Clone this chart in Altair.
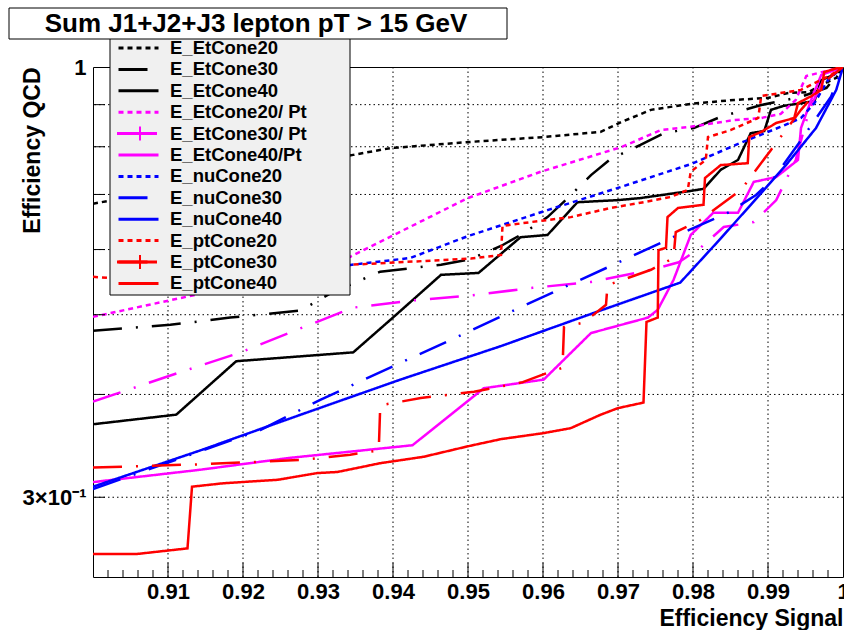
import altair as alt
import pandas as pd

FONT = "Liberation Sans"
TITLE = "Sum J1+J2+J3 lepton pT > 15 GeV"

# ---- isolation-cut ROC curves: signal efficiency (x) vs QCD efficiency (y) ----
etcone20_x = [0.9000, 0.9347, 0.9397, 0.9504, 0.9601, 0.9677, 0.9704, 0.9744, 0.9797, 0.9855, 0.9900, 0.9927, 0.9954, 0.9971, 0.9991, 1.0000]
etcone20_y = [0.682, 0.782, 0.797, 0.811, 0.822, 0.834, 0.857, 0.887, 0.902, 0.912, 0.917, 0.930, 0.932, 0.951, 0.970, 1.000]

etcone30_x = [0.9000, 0.9103, 0.9183, 0.9277, 0.9317, 0.9383, 0.9464, 0.9500, 0.9544, 0.9570, 0.9606, 0.9633, 0.9664, 0.9690, 0.9730, 0.9761, 0.9801, 0.9837, 0.9891, 0.9944, 0.9978, 1.0000]
etcone30_y = [0.478, 0.486, 0.496, 0.506, 0.531, 0.564, 0.575, 0.583, 0.606, 0.625, 0.657, 0.693, 0.739, 0.773, 0.804, 0.831, 0.843, 0.870, 0.899, 0.920, 0.943, 1.000]

etcone40_x = [0.9000, 0.9111, 0.9191, 0.9347, 0.9401, 0.9464, 0.9514, 0.9570, 0.9606, 0.9646, 0.9700, 0.9730, 0.9797, 0.9814, 0.9837, 0.9860, 0.9877, 0.9895, 0.9904, 0.9921, 0.9962, 0.9971, 0.9984, 1.0000]
etcone40_y = [0.368, 0.378, 0.439, 0.450, 0.497, 0.559, 0.562, 0.621, 0.625, 0.685, 0.689, 0.693, 0.707, 0.711, 0.750, 0.771, 0.831, 0.836, 0.887, 0.897, 0.909, 0.964, 0.975, 1.000]

etcone20pt_x = [0.9000, 0.9134, 0.9343, 0.9401, 0.9500, 0.9597, 0.9704, 0.9757, 0.9797, 0.9855, 0.9891, 0.9917, 0.9937, 0.9951, 0.9978, 1.0000]
etcone20pt_y = [0.497, 0.528, 0.588, 0.625, 0.693, 0.746, 0.799, 0.838, 0.846, 0.862, 0.867, 0.877, 0.912, 0.975, 0.989, 1.000]

etcone30pt_x = [0.9000, 0.9114, 0.9197, 0.9271, 0.9347, 0.9423, 0.9506, 0.9586, 0.9664, 0.9744, 0.9781, 0.9810, 0.9841, 0.9881, 0.9911, 0.9937, 0.9955, 0.9974, 1.0000]
etcone30pt_y = [0.392, 0.425, 0.450, 0.479, 0.510, 0.520, 0.528, 0.539, 0.548, 0.567, 0.579, 0.603, 0.639, 0.648, 0.689, 0.771, 0.887, 0.964, 1.000]

etcone40pt_x = [0.9000, 0.9143, 0.9263, 0.9426, 0.9521, 0.9601, 0.9664, 0.9740, 0.9753, 0.9774, 0.9797, 0.9827, 0.9860, 0.9881, 0.9911, 0.9940, 0.9944, 0.9960, 0.9971, 1.0000]
etcone40pt_y = [0.313, 0.324, 0.335, 0.347, 0.407, 0.417, 0.475, 0.496, 0.507, 0.551, 0.625, 0.665, 0.665, 0.725, 0.735, 0.771, 0.843, 0.925, 0.978, 1.000]

nucone20_x = [0.9317, 0.9423, 0.9500, 0.9606, 0.9700, 0.9797, 0.9864, 0.9917, 0.9944, 0.9962, 0.9980, 1.0000]
nucone20_y = [0.571, 0.586, 0.623, 0.670, 0.713, 0.762, 0.809, 0.846, 0.867, 0.904, 0.964, 1.000]

nucone30_x = [0.9000, 0.9223, 0.9303, 0.9410, 0.9486, 0.9557, 0.9628, 0.9701, 0.9773, 0.9848, 0.9884, 0.9908, 0.9944, 0.9984, 1.0000]
nucone30_y = [0.307, 0.362, 0.394, 0.437, 0.470, 0.504, 0.540, 0.579, 0.621, 0.666, 0.699, 0.733, 0.815, 0.920, 1.000]

nucone40_x = [0.9000, 0.9143, 0.9277, 0.9410, 0.9544, 0.9677, 0.9783, 0.9837, 0.9877, 0.9924, 0.9964, 0.9991, 1.0000]
nucone40_y = [0.309, 0.342, 0.378, 0.417, 0.458, 0.506, 0.547, 0.619, 0.680, 0.760, 0.843, 0.938, 1.000]

ptcone20_x = [0.9000, 0.9023, 0.9343, 0.9504, 0.9544, 0.9546, 0.9584, 0.9637, 0.9690, 0.9730, 0.9770, 0.9793, 0.9797, 0.9817, 0.9820, 0.9850, 0.9887, 0.9891, 0.9944, 0.9984, 1.0000]
ptcone20_y = [0.556, 0.554, 0.575, 0.585, 0.591, 0.641, 0.648, 0.657, 0.674, 0.684, 0.695, 0.709, 0.746, 0.771, 0.822, 0.838, 0.867, 0.922, 0.938, 0.978, 1.000]

ptcone30_x = [0.9000, 0.9143, 0.9277, 0.9343, 0.9381, 0.9383, 0.9437, 0.9508, 0.9573, 0.9606, 0.9626, 0.9628, 0.9654, 0.9684, 0.9686, 0.9744, 0.9774, 0.9777, 0.9810, 0.9864, 0.9904, 0.9944, 0.9978, 1.0000]
ptcone30_y = [0.326, 0.329, 0.333, 0.338, 0.342, 0.388, 0.396, 0.403, 0.414, 0.425, 0.431, 0.483, 0.489, 0.514, 0.543, 0.567, 0.586, 0.630, 0.652, 0.709, 0.793, 0.887, 0.964, 1.000]

ptcone40_x = [0.9000, 0.9059, 0.9126, 0.9132, 0.9174, 0.9246, 0.9299, 0.9326, 0.9383, 0.9441, 0.9500, 0.9544, 0.9601, 0.9637, 0.9677, 0.9700, 0.9734, 0.9738, 0.9753, 0.9754, 0.9764, 0.9766, 0.9780, 0.9814, 0.9816, 0.9837, 0.9873, 0.9875, 0.9891, 0.9911, 0.9935, 0.9940, 0.9958, 0.9971, 0.9975, 0.9997, 1.0000]
ptcone40_y = [0.256, 0.256, 0.260, 0.309, 0.312, 0.315, 0.321, 0.322, 0.330, 0.336, 0.346, 0.353, 0.359, 0.364, 0.378, 0.385, 0.391, 0.490, 0.496, 0.599, 0.603, 0.657, 0.674, 0.680, 0.733, 0.760, 0.764, 0.822, 0.834, 0.855, 0.867, 0.904, 0.922, 0.938, 0.986, 1.000, 1.000]

series = [
    ("E_EtCone20", etcone20_x, etcone20_y),
    ("E_EtCone30", etcone30_x, etcone30_y),
    ("E_EtCone40", etcone40_x, etcone40_y),
    ("E_EtCone20/ Pt", etcone20pt_x, etcone20pt_y),
    ("E_EtCone30/ Pt", etcone30pt_x, etcone30pt_y),
    ("E_EtCone40/Pt", etcone40pt_x, etcone40pt_y),
    ("E_nuCone20", nucone20_x, nucone20_y),
    ("E_nuCone30", nucone30_x, nucone30_y),
    ("E_nuCone40", nucone40_x, nucone40_y),
    ("E_ptCone20", ptcone20_x, ptcone20_y),
    ("E_ptCone30", ptcone30_x, ptcone30_y),
    ("E_ptCone40", ptcone40_x, ptcone40_y),
]

# axis decoration values
x_labels = [0.91, 0.92, 0.93, 0.94, 0.95, 0.96, 0.97, 0.98, 0.99, 1.0]
x_major = [0.91, 0.92, 0.93, 0.94, 0.95, 0.96, 0.97, 0.98, 0.99]
x_minor = [round(0.9 + 0.002 * i, 3) for i in range(1, 50) if i % 5]
y_major = [0.3, 0.4, 0.5, 0.6, 0.7, 0.8, 0.9]
y_labels = [0.3, 1.0]

rows = []
for name, xs, ys in series:
    if len(xs) != len(ys):
        raise ValueError(name)
    for i, (a, b) in enumerate(zip(xs, ys)):
        rows.append({"series": name, "idx": i, "eff_sig": a, "eff_qcd": b})
curves = pd.DataFrame(rows)

names = [s[0] for s in series]
colors = ["#000000"] * 3 + ["#ff00ff"] * 3 + ["#0000ff"] * 3 + ["#ff0000"] * 3
DOT = [5, 4]
DASHDOT = [29, 14, 2, 14]
SOLID = [1, 0]
dashes = [DOT, DASHDOT, SOLID] * 4

W, H = 750, 510
xscale = alt.Scale(domain=[0.9, 1.0], nice=False, zero=False)
yscale = alt.Scale(type="log", domain=[0.24, 1.0], nice=False)

legend = alt.Legend(
    orient="none", legendX=24, legendY=-28, padding=0,
    symbolType="stroke", symbolSize=1600, symbolStrokeWidth=3,
    clipHeight=18, rowPadding=2.4, labelOffset=10,
    labelFont=FONT, labelFontSize=18.5, labelFontWeight="bold",
    labelColor="black", labelLimit=300,
)

x_axis = alt.Axis(
    values=x_labels,
    labelExpr="datum.value > 0.9995 ? '1' : format(datum.value, '.2f')",
    grid=False, ticks=False, domain=False,
    labelFont=FONT, labelFontSize=22, labelFontWeight="bold", labelColor="black",
    labelPadding=4, labelFlush=False, labelOverlap=False,
    title="Efficiency Signal", titleFont=FONT, titleFontSize=23,
    titleFontWeight="bold", titleColor="black",
    titleX=W, titleY=41, titleAlign="right", titleBaseline="middle",
)
y_axis = alt.Axis(
    values=y_labels,
    labelExpr="datum.value > 0.99 ? '1' : '3\u00d710\u207b\u00b9'",
    grid=False, ticks=False, domain=False,
    labelFont=FONT, labelFontSize=22, labelFontWeight="bold", labelColor="black",
    labelPadding=7, labelFlush=False, labelOverlap=False,
    title="Efficiency QCD", titleFont=FONT, titleFontSize=23,
    titleFontWeight="bold", titleColor="black",
    titleX=-61, titleY=0, titleAngle=270, titleAlign="right", titleBaseline="middle",
)

grid_style = dict(color="black", strokeWidth=1, strokeDash=[1.5, 3])

xgrid = alt.Chart(pd.DataFrame({"v": x_major})).mark_rule(**grid_style).encode(
    x=alt.X("v:Q", scale=xscale, axis=x_axis)
)
ygrid = alt.Chart(pd.DataFrame({"v": y_major})).mark_rule(**grid_style).encode(
    y=alt.Y("v:Q", scale=yscale, axis=y_axis)
)

lines = alt.Chart(curves).mark_line(strokeWidth=2.5, clip=True).encode(
    x=alt.X("eff_sig:Q", scale=xscale, axis=x_axis),
    y=alt.Y("eff_qcd:Q", scale=yscale, axis=y_axis),
    color=alt.Color("series:N", scale=alt.Scale(domain=names, range=colors),
                    legend=legend, title=None),
    strokeDash=alt.StrokeDash("series:N", scale=alt.Scale(domain=names, range=dashes),
                              legend=legend, title=None),
    order="idx:Q",
)

# inward-pointing tick marks along the bottom and left edges of the frame
xtick_major = alt.Chart(pd.DataFrame({"v": x_major})).mark_rule(color="black", strokeWidth=1).encode(
    x=alt.X("v:Q", scale=xscale, axis=x_axis), y=alt.value(H), y2=alt.value(H - 14)
)
xtick_minor = alt.Chart(pd.DataFrame({"v": x_minor})).mark_rule(color="black", strokeWidth=1).encode(
    x=alt.X("v:Q", scale=xscale, axis=x_axis), y=alt.value(H), y2=alt.value(H - 7)
)
ytick_major = alt.Chart(pd.DataFrame({"v": y_major})).mark_rule(color="black", strokeWidth=1).encode(
    y=alt.Y("v:Q", scale=yscale, axis=y_axis), x=alt.value(0), x2=alt.value(12)
)

one = pd.DataFrame({"k": [0]})
legend_box = alt.Chart(one).mark_rect(fill="#f0f0f0", stroke="black", strokeWidth=1).encode(
    x=alt.value(17), x2=alt.value(257), y=alt.value(-29), y2=alt.value(228)
)


def error_bar_key(color, yc):
    """Solid stroke with a vertical error-bar tick for the '+' legend keys."""
    bar = alt.Chart(one).mark_rule(color=color, strokeWidth=3).encode(
        x=alt.value(24), x2=alt.value(64), y=alt.value(yc)
    )
    tick = alt.Chart(one).mark_rule(color=color, strokeWidth=2).encode(
        x=alt.value(47), y=alt.value(yc - 7), y2=alt.value(yc + 7)
    )
    return bar + tick


keys = error_bar_key("#ff00ff", 66.5) + error_bar_key("#ff0000", 195)

title_box = alt.Chart(one).mark_rect(fill="white", stroke="black", strokeWidth=1).encode(
    x=alt.value(-84), x2=alt.value(414), y=alt.value(-59), y2=alt.value(-28)
)
title_text = alt.Chart(pd.DataFrame({"t": [TITLE]})).mark_text(
    font=FONT, fontSize=26, fontWeight="bold", color="black", align="center", baseline="middle"
).encode(text="t:N", x=alt.value(163), y=alt.value(-43))

chart = alt.layer(
    xgrid, ygrid, lines, xtick_major, xtick_minor, ytick_major,
    legend_box, keys, title_box, title_text,
).properties(
    width=W, height=H,
    padding={"left": 93, "top": 67, "right": 1, "bottom": 53},
    autosize=alt.AutoSizeParams(type="none"),
    background="white",
).configure_view(stroke="black", strokeWidth=1)

chart.save("out.html", embed_options={"renderer": "svg", "actions": False})
